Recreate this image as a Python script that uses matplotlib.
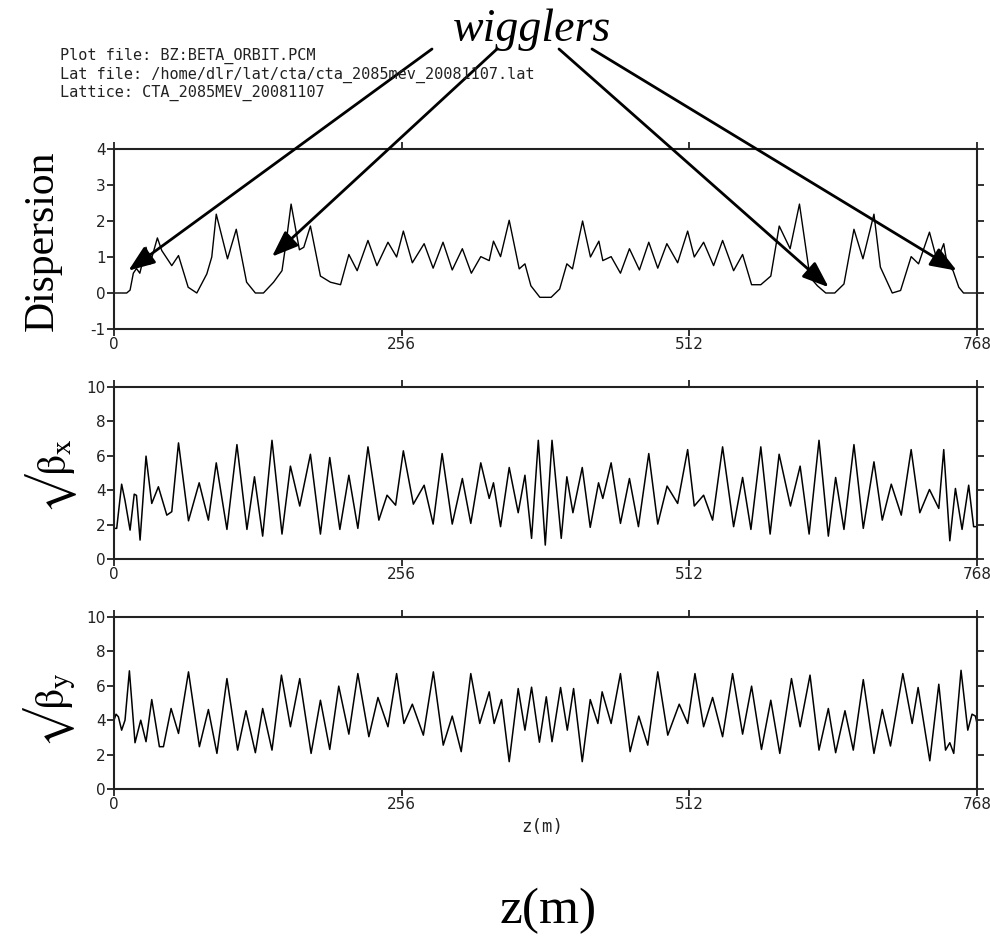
import matplotlib
matplotlib.use("Agg")
import matplotlib.pyplot as plt

plt.rcParams['mathtext.fontset'] = 'stix'

# ---------------- data ----------------
disp_z = [0, 11.3, 14.3, 17.2, 20, 23, 28.5, 32, 38.6, 42.5, 51.4, 57.4, 66, 73.7, 82.6, 87, 91, 101,
          108.8, 118, 125.8, 133, 142, 149.5, 153.4, 157.6, 165, 168.9, 174.8, 183.7, 192.6, 201.6, 209,
          216.4, 226, 234, 243.8, 251.5, 257.5, 265.5, 276, 284, 292.8, 301, 310, 318, 326.4, 333.9, 337.7,
          344, 351.7, 360.6, 365.7, 371, 379, 389, 396.6, 403, 408, 417, 424, 431.5, 435, 442.4, 450.7,
          458.7, 467.6, 475.9, 483.9, 492, 501.6, 510.5, 516.4, 524.7, 533.6, 541.6, 551.4, 559.4, 567.4,
          575.6, 584.5, 592, 601.7, 610, 619.4, 626, 633.4, 641.4, 649.6, 658.5, 666.5, 676.3, 682, 692.6,
          700, 709.4, 716, 725.7, 732.5, 738.4, 741.4, 746.7, 751.8, 756, 768]
disp_v = [0, 0, 0.08, 0.55, 0.68, 0.55, 1.27, 0.8, 1.53, 1.18, 0.76, 1.04, 0.16, 0, 0.53, 1.0, 2.19, 0.95,
          1.77, 0.3, 0, 0, 0.3, 0.62, 1.46, 2.47, 1.2, 1.27, 1.86, 0.47, 0.3, 0.23, 1.07, 0.62, 1.46, 0.76,
          1.41, 1.0, 1.72, 0.84, 1.37, 0.69, 1.41, 0.64, 1.23, 0.55, 1.01, 0.9, 1.44, 1.01, 2.02, 0.67, 0.81,
          0.2, -0.12, -0.12, 0.11, 0.81, 0.67, 2.0, 1.0, 1.44, 0.9, 1.01, 0.55, 1.23, 0.64, 1.41, 0.69, 1.37,
          0.84, 1.72, 1.0, 1.41, 0.76, 1.46, 0.62, 1.07, 0.23, 0.23, 0.47, 1.86, 1.23, 2.47, 0.44, 0.2, 0, 0,
          0.25, 1.77, 0.95, 2.19, 0.72, 0, 0.07, 1.01, 0.81, 1.69, 0.9, 1.37, 0.81, 0.62, 0.16, 0, 0]

bx_z = [0, 2.4, 6.8, 9.8, 14.3, 18, 20, 23.2, 28.5, 33.6, 39.5, 47, 51.4, 57.4, 66.3, 75.8, 84, 91, 100.5,
        109.4, 118.3, 125, 132.3, 140.6, 149.5, 157, 165.3, 174.8, 183.7, 192, 201, 209, 217, 226, 235.7,
        243, 250.6, 257.5, 266.4, 276, 284, 292, 301, 310, 317.5, 326.4, 333.9, 337.7, 344, 351.7, 359.7,
        365.7, 371.6, 377.6, 383.8, 389.8, 398, 403, 408.4, 416.7, 423.8, 431.2, 435, 442.4, 450.7, 458.7,
        466.7, 475.9, 483.9, 492.2, 501.6, 510.5, 516.4, 524.7, 532.7, 541.6, 551.4, 559.4, 566.8, 575.6,
        583.9, 591.9, 602, 610.6, 618.6, 627.4, 635.7, 642.2, 649.6, 658.5, 666.8, 676.3, 683.7, 691.7,
        700.6, 709.4, 717.1, 725.7, 734, 738.4, 743.8, 748.8, 754.7, 760.6, 765, 768]
bx_v = [1.78, 1.78, 4.35, 3.4, 1.68, 3.77, 3.7, 1.1, 5.98, 3.23, 4.2, 2.55, 2.75, 6.75, 2.22, 4.43, 2.26,
        5.59, 1.72, 6.65, 1.72, 4.78, 1.33, 6.9, 1.45, 5.4, 3.08, 6.09, 1.45, 5.9, 1.72, 4.87, 1.78, 6.52,
        2.26, 3.71, 3.13, 6.29, 3.19, 4.29, 2.03, 6.13, 2.03, 4.68, 2.07, 5.59, 3.52, 4.43, 1.88, 5.32, 2.69,
        4.87, 1.2, 6.9, 0.81, 6.9, 1.2, 4.78, 2.69, 5.32, 1.84, 4.43, 3.52, 5.59, 2.07, 4.68, 1.88, 6.13,
        2.03, 4.24, 3.23, 6.36, 3.08, 3.71, 2.26, 6.52, 1.88, 4.74, 1.72, 6.52, 1.45, 6.09, 3.08, 5.4, 1.45,
        6.9, 1.33, 4.74, 1.72, 6.65, 1.78, 5.65, 2.26, 4.35, 2.55, 6.36, 2.69, 4.04, 2.94, 6.36, 1.06, 4.1,
        1.72, 4.29, 1.88, 1.88]

by_z = [0, 1.8, 3.9, 6.8, 9.8, 13.7, 18.7, 23.8, 28.5, 33.6, 40.4, 44, 50.8, 57.4, 66.3, 76, 84, 91.6,
        100.5, 110, 117.4, 125.8, 132.3, 140.6, 149, 157, 165.3, 175.4, 183.7, 192, 200, 209, 217, 226.8,
        234.9, 243.8, 251.5, 258, 265.5, 275.3, 284.2, 293, 301, 309, 317.5, 325.5, 333.9, 338.3, 344.9,
        351.7, 359.7, 365.7, 371.6, 378.6, 384.7, 389.8, 397.4, 403.4, 409, 416.7, 423.8, 430.6, 434.4,
        442.4, 450.7, 459.3, 467, 475, 483.9, 492.8, 503, 510.5, 517, 524.7, 532.7, 541.6, 550.5, 559.4,
        567.4, 576.2, 584.5, 592.5, 602.9, 610.6, 619.4, 627.4, 635.7, 642.2, 650.5, 657.9, 666.8, 676.3,
        683.7, 691, 702, 710.3, 715.6, 726, 734, 740, 743.8, 747.3, 753.8, 759.8, 763.6, 766.6, 768]
by_v = [4.0, 4.35, 4.2, 3.42, 4.0, 6.87, 2.69, 4.0, 2.75, 5.2, 2.46, 2.46, 4.68, 3.23, 6.81, 2.46, 4.62,
        2.07, 6.42, 2.26, 4.55, 2.11, 4.68, 2.26, 6.62, 3.62, 6.42, 2.07, 5.16, 2.3, 5.98, 3.19, 6.71, 3.04,
        5.32, 3.62, 6.71, 3.81, 4.93, 3.13, 6.81, 2.55, 4.24, 2.17, 6.71, 3.81, 5.65, 3.81, 5.2, 1.59, 5.84,
        3.42, 5.92, 2.72, 5.36, 2.75, 5.9, 3.42, 5.84, 1.59, 5.2, 3.81, 5.65, 3.81, 6.71, 2.17, 4.24, 2.55,
        6.81, 3.13, 4.93, 3.81, 6.71, 3.62, 5.32, 3.04, 6.71, 3.19, 5.98, 2.3, 5.16, 2.07, 6.42, 3.62, 6.62,
        2.26, 4.68, 2.11, 4.55, 2.26, 6.36, 2.07, 4.62, 2.5, 6.71, 3.81, 5.9, 1.64, 6.09, 2.26, 2.69, 2.07,
        6.9, 3.42, 4.35, 4.24, 3.81]

x_ticks = [0, 256, 512, 768]
disp_yticks = [-1, 0, 1, 2, 3, 4]
beta_yticks = [0, 2, 4, 6, 8, 10]

header_lines = ["Plot file: BZ:BETA_ORBIT.PCM",
                "Lat file: /home/dlr/lat/cta/cta_2085mev_20081107.lat",
                "Lattice: CTA_2085MEV_20081107"]

# arrow tips (z, dispersion) and tails (pixel positions near the "wigglers" label)
arrow_tips = [(12.8, 0.62), (140.6, 1.01), (636, 0.16), (750, 0.62)]
arrow_tails_px = [(432, 49), (497, 49), (559, 49), (592, 49)]

# ---------------- figure ----------------
W, H = 990, 936
fig = plt.figure(figsize=(W / 100, H / 100), dpi=100)
fig.patch.set_facecolor('white')

def px_axes(left, top, right, bottom):
    return fig.add_axes([left / W, 1 - bottom / H, (right - left) / W, (bottom - top) / H])

def style(ax, ylim, yticks):
    ax.set_xlim(0, 768)
    ax.set_ylim(*ylim)
    ax.set_xticks(x_ticks)
    ax.set_xticklabels([str(t) for t in x_ticks])
    ax.set_yticks(yticks)
    ax.set_yticklabels([str(t) for t in yticks])
    ax.tick_params(axis='both', direction='out', length=5, width=1.3, color='#222222',
                   top=True, right=True, labeltop=False, labelright=False, pad=1,
                   labelsize=11, labelcolor='#222222')
    for lab in ax.get_xticklabels() + ax.get_yticklabels():
        lab.set_family('DejaVu Sans')
    for s in ax.spines.values():
        s.set_linewidth(1.5)
        s.set_color('#222222')

ax1 = px_axes(114, 149, 977, 329)
ax1.plot(disp_z, disp_v, color='black', lw=1.0)
style(ax1, (-1, 4), disp_yticks)

ax2 = px_axes(114, 387, 977, 559)
ax2.plot(bx_z, bx_v, color='black', lw=1.1)
style(ax2, (0, 10), beta_yticks)

ax3 = px_axes(114, 617, 977, 789)
ax3.plot(by_z, by_v, color='black', lw=1.1)
style(ax3, (0, 10), beta_yticks)

# header
for i, line in enumerate(header_lines):
    fig.text(60 / W, 1 - (56 + i * 18.5) / H, line, family='DejaVu Sans Mono', size=11,
             color='#222222', ha='left', va='center')

# wigglers label
fig.text(532 / W, 1 - 30 / H, 'wigglers', family='Liberation Serif', style='italic',
         size=33, ha='center', va='center')

# y labels
fig.text(43 / W, 1 - 241 / H, 'Dispersion', family='Liberation Serif', size=30,
         rotation=90, ha='center', va='center')
fig.text(51 / W, 1 - 476 / H, '$\\mathrm{\u221a\u03b2}_{\\mathrm{x}}$', size=30,
         rotation=90, ha='center', va='center')
fig.text(50 / W, 1 - 710 / H, '$\\mathrm{\u221a\u03b2}_{\\mathrm{y}}$', size=30,
         rotation=90, ha='center', va='center')

# x labels
fig.text(542 / W, 1 - 827 / H, 'z(m)', family='DejaVu Sans Mono', size=12.5, color='#222222',
         ha='center', va='center')
fig.text(548 / W, 1 - 911 / H, 'z(m)', family='Liberation Serif', size=37,
         ha='center', va='center')

# arrows
for (tz, tv), (px, py) in zip(arrow_tips, arrow_tails_px):
    ax1.annotate('', xy=(tz, tv), xycoords='data',
                 xytext=(px / W, 1 - py / H), textcoords='figure fraction',
                 annotation_clip=False,
                 arrowprops=dict(arrowstyle='-|>,head_length=1.0,head_width=0.38',
                                 mutation_scale=16, color='black', lw=2.0,
                                 shrinkA=0, shrinkB=0))

fig.savefig('out.png', dpi=100, facecolor='white')
